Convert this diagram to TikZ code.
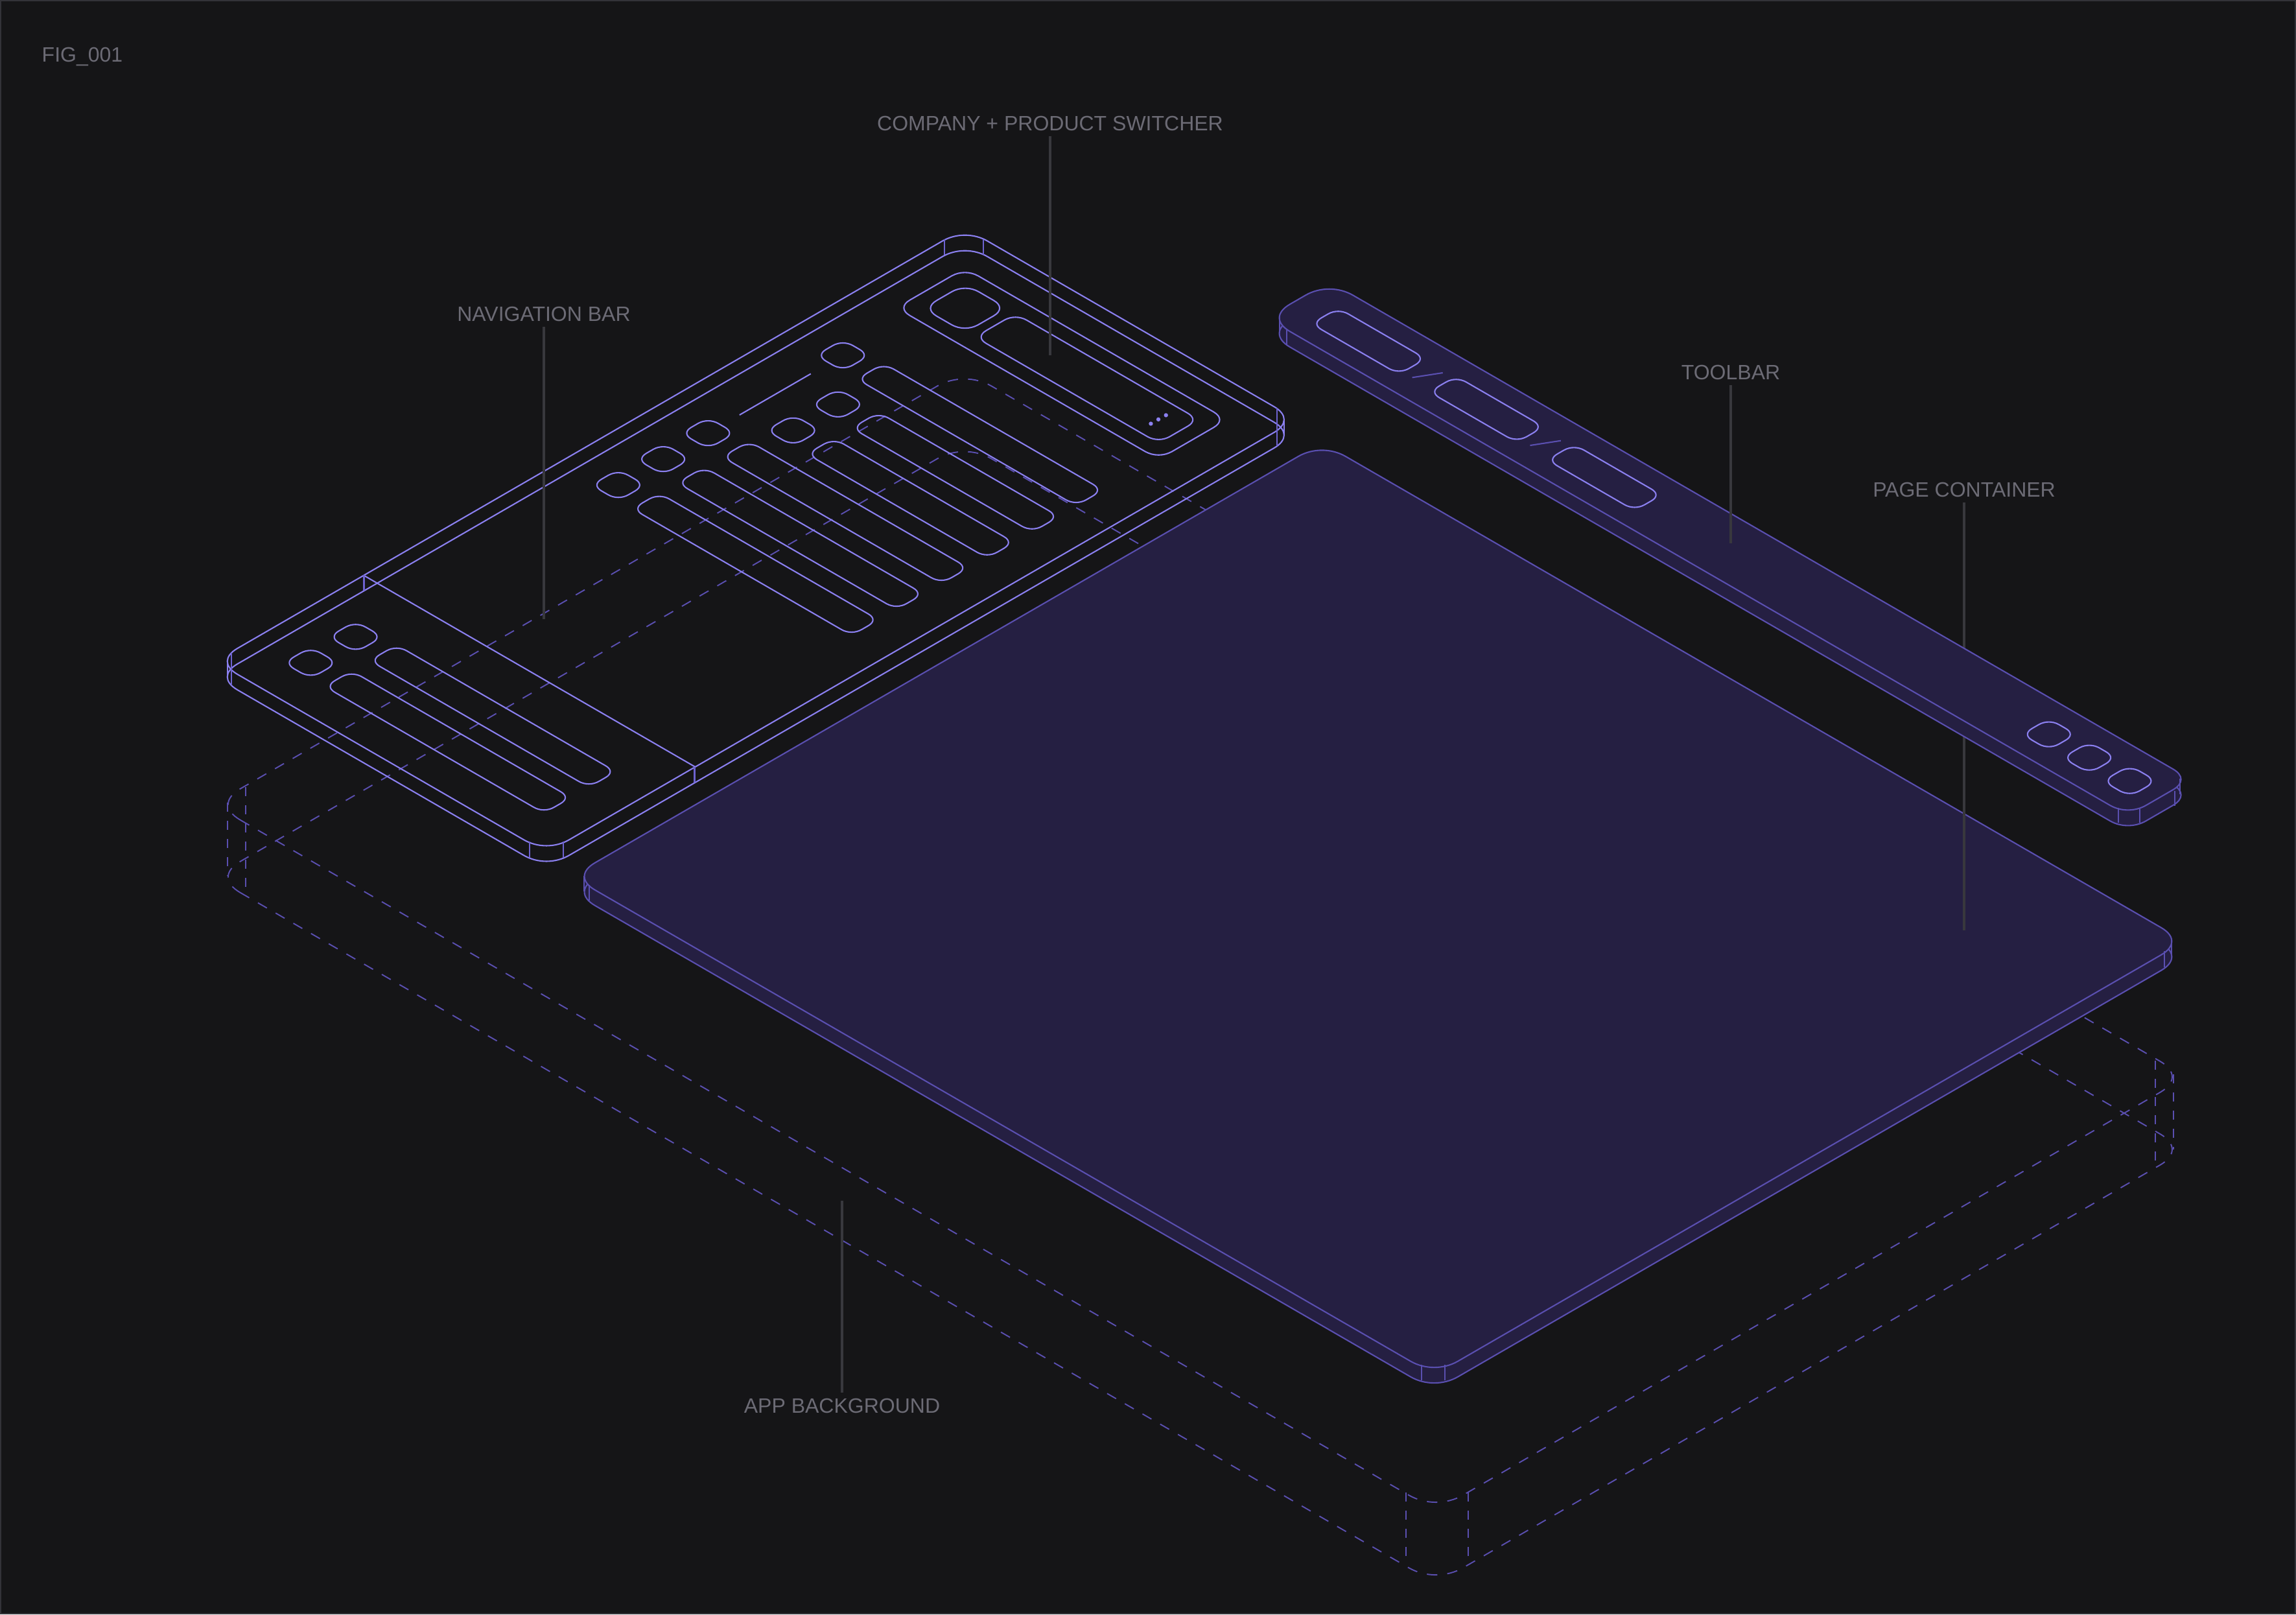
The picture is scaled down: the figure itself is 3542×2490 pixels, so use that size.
\documentclass[tikz,border=0pt]{standalone}
\usepackage{fontspec}
\setmainfont{Liberation Sans}
\definecolor{figbg}{HTML}{151517}
\definecolor{figborder}{HTML}{333338}
\definecolor{platefill}{HTML}{251F42}
\definecolor{wirelight}{HTML}{8B80F0}
\definecolor{wiremid}{HTML}{6D62CF}
\definecolor{wiredark}{HTML}{5A4FB0}
\definecolor{leadgrey}{HTML}{38383D}
\definecolor{labgrey}{HTML}{6C6B75}
\newcommand{\platepath}[6]{({#1+#5},#2) -- ({#3-#6},#2)
  .. controls ({#3-0.4*#6},#2) and (#3,{#2+0.4*#6}) .. (#3,{#2+#6})
  -- (#3,{#4-#6})
  .. controls (#3,{#4-0.4*#6}) and ({#3-0.4*#6},#4) .. ({#3-#6},#4)
  -- ({#1+#5},#4)
  .. controls ({#1+0.4*#5},#4) and (#1,{#4-0.4*#5}) .. (#1,{#4-#5})
  -- (#1,{#2+#5})
  .. controls (#1,{#2+0.4*#5}) and ({#1+0.4*#5},#2) .. ({#1+#5},#2) -- cycle}
\newcommand{\slab}[5]{\platepath{#1}{#2}{#3}{#4}{#5}{#5}}
\newcommand{\sq}[2]{\platepath{#1-24}{#2-24}{#1+24}{#2+24}{18}{18}}
\begin{document}
\begin{tikzpicture}[
  x=0.01cm, y=-0.01cm,
  iso/.style    = {x={(0.24625pt,-0.14226pt)}, y={(0.24625pt,0.14226pt)}},
  drop/.style   = {yshift=-#1*0.28453pt},
  wire/.style   = {draw=wirelight, line width=0.6pt, line join=round},
  tick/.style   = {draw=wiremid, line width=0.6pt},
  edge/.style   = {draw=wiredark, line width=0.6pt, line join=round},
  ghost/.style  = {draw=wiredark, line width=0.55pt, dash pattern=on 0.16cm off 0.155cm},
  ghostv/.style = {draw=wiredark, line width=0.6pt, dash pattern=on 0.135cm off 0.145cm},
  lead/.style   = {draw=leadgrey, line width=1.1pt},
  lab/.style    = {font=\fontsize{9.1pt}{11pt}\selectfont, text=labgrey, inner xsep=0pt,
                   inner ysep=0.08cm, text height=6.55pt, text depth=0pt},
]
\useasboundingbox (0,0) rectangle (3542,2490);
\fill[figbg] (0,0) rectangle (3542,2490);
\draw[figborder, line width=0.57pt] (1,1) rectangle (3541,2489);

\begin{scope}[iso]
  \draw[ghost] \slab{1430}{-1050}{3608}{288}{48};
  \begin{scope}[drop=112]
    \draw[ghost] \slab{1430}{-1050}{3608}{288}{48};
  \end{scope}
\end{scope}
\foreach \tx/\ta/\tb in {351/1238/1351, 379/1214/1380, 2169/2302/2413, 2265/2302/2413,
                         3325/1636/1802, 3353/1657/1773}
  \draw[ghostv] (\tx,\ta) -- (\tx,\tb);

\begin{scope}[iso]
  \draw[wire] \slab{1211}{-828}{1801.5}{508}{40};
  \begin{scope}[drop=24]
    \draw[wire] \slab{1211}{-828}{1801.5}{508}{40};
  \end{scope}
  \draw[wire] (1211,-563) -- (1801.5,-563);
  \foreach \sv in {-745,-665,-197,-117,-37,203}
    \draw[wire] \sq{1298.5}{\sv};
  \foreach \sv in {43,123}
    \draw[wire] \sq{1370}{\sv};
  \foreach \bv in {-745,-665,-197,-117,-37,203}
    \draw[wire] \slab{1347.5}{\bv-24}{1738}{\bv+24}{18};
  \foreach \bv in {43,123}
    \draw[wire] \slab{1418.5}{\bv-24}{1739.5}{\bv+24}{18};
  \draw[wire] (1298.4,19) -- (1298.4,146);
  \draw[wire] \slab{1273}{324}{1740}{446}{24};
  \draw[wire] \slab{1297.5}{347}{1372}{422}{24};
  \draw[wire] \slab{1388}{349}{1715}{421}{20};
\end{scope}
\foreach \dx/\dy in {1775.4/653.5, 1787/646.9, 1798.7/640.4}
  \fill[wirelight] (\dx,\dy) circle[radius=3.2];
\foreach \tx/\ta/\tb in {357/1007/1057, 561.5/887/911, 817/1298/1323, 869/1298/1323,
                         1071.5/1183/1207, 1457/369/393, 1517/369/393, 1969.6/629/688}
  \draw[tick] (\tx,\ta) -- (\tx,\tb);
\draw[wire] (351,1019.5) -- (351,1043.5);
\draw[wire] (1981,646.8) -- (1981,670.8);

\begin{scope}[iso]
  \begin{scope}[drop=24]
    \fill[platefill] \slab{1860}{-842}{3397}{495}{42};
  \end{scope}
\end{scope}
\fill[platefill] (901,1351) -- (3350,1451) -- (3350,1475) -- (901,1375) -- cycle;
\begin{scope}[iso]
  \begin{scope}[drop=24]
    \draw[edge] \slab{1860}{-842}{3397}{495}{42};
  \end{scope}
  \draw[edge, fill=platefill] \slab{1860}{-842}{3397}{495}{42};
\end{scope}
\draw[edge] (901,1351) -- (901,1375);
\draw[edge] (3350,1451) -- (3350,1475);
\foreach \tx/\ta/\tb in {909/1365/1389, 2193/2105/2129, 2229/2105/2129, 3339/1467/1492}
  \draw[edge] (\tx,\ta) -- (\tx,\tb);

\node[lab] (pagelab) at (3030,755) {PAGE CONTAINER};
\coordinate (pageend) at (3030,1435);
\draw[lead] (pagelab.south) -- (pageend);

\begin{scope}[iso]
  \begin{scope}[drop=24]
    \fill[platefill] \platepath{1618}{638}{3153}{750}{42}{32};
  \end{scope}
\end{scope}
\fill[platefill] (1974,490) -- (3363,1200.5) -- (3363,1224.5) -- (1974,514) -- cycle;
\begin{scope}[iso]
  \begin{scope}[drop=24]
    \draw[edge] \platepath{1618}{638}{3153}{750}{42}{32};
  \end{scope}
  \draw[edge, fill=platefill] \platepath{1618}{638}{3153}{750}{42}{32};
  \foreach \pu in {1667,1877,2087}
    \draw[wire] \slab{\pu}{669}{\pu+156}{717}{18};
  \foreach \su in {2957,3029,3101}
    \draw[wire] \sq{\su}{693};
\end{scope}
\draw[edge] (1974,490) -- (1974,514);
\draw[edge] (3363,1200.5) -- (3363,1224.5);
\foreach \tx/\ta/\tb in {1985/508/533, 3268.3/1246/1269, 3300.7/1246/1269, 3355/1220/1243}
  \draw[edge] (\tx,\ta) -- (\tx,\tb);
\draw[edge] (2178.6,582.3) -- (2225.7,575);
\draw[edge] (2360.4,687) -- (2407.8,679.7);

\node[lab, anchor=west] (figlab) at (64,84.3) {FIG\_001};
\node[lab] (complab) at (1620,190) {COMPANY + PRODUCT SWITCHER};
\node[lab] (navlab) at (839,484) {NAVIGATION BAR};
\node[lab] (toollab) at (2670,574) {TOOLBAR};
\node[lab] (applab) at (1299,2168) {APP BACKGROUND};
\coordinate (compend) at (1620,548);
\coordinate (navend) at (839,955);
\coordinate (toolend) at (2670,838);
\coordinate (append) at (1299,1852);
\draw[lead] (complab.south) -- (compend);
\draw[lead] (navlab.south) -- (navend);
\draw[lead] (toollab.south) -- (toolend);
\draw[lead] (append) -- (applab.north);
\end{tikzpicture}
\end{document}
